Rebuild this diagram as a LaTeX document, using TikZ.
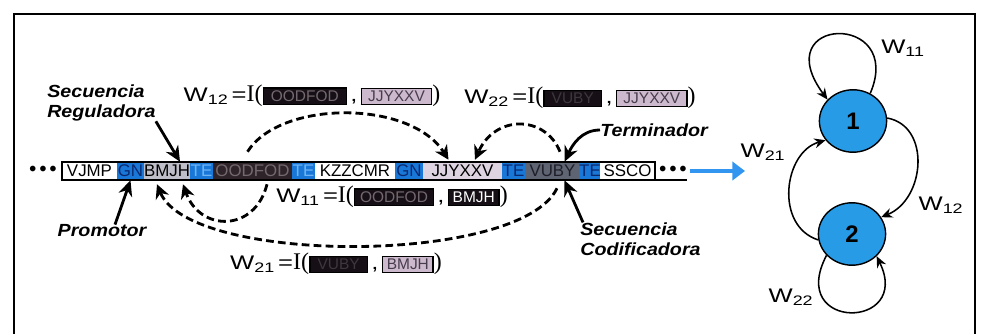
\documentclass[tikz,border=0pt]{standalone}
\usepackage{fontspec}
\setmainfont{Liberation Sans}
\newfontfamily\heavyfont[FakeStretch=1.12]{Liberation Sans}
\newfontfamily\wfont[FakeStretch=1.3]{Liberation Sans}
\newfontfamily\serifI{Liberation Serif}
\usetikzlibrary{arrows.meta,shapes.geometric}

\definecolor{segblue}{RGB}{25,120,215}
\definecolor{gntxt}{RGB}{10,40,110}
\definecolor{tetxt}{RGB}{110,180,245}
\definecolor{seggray}{RGB}{190,190,200}
\definecolor{segdark}{RGB}{45,35,40}
\definecolor{darktxt}{RGB}{115,105,110}
\definecolor{segpink}{RGB}{222,212,225}
\definecolor{segslate}{RGB}{95,100,115}
\definecolor{slatetxt}{RGB}{30,30,40}
\definecolor{boxpink}{RGB}{205,185,205}
\definecolor{pinktxt}{RGB}{70,60,75}
\definecolor{boxblack}{RGB}{22,16,22}
\definecolor{blacktxt}{RGB}{62,56,62}
\definecolor{stateblue}{RGB}{40,155,230}
\definecolor{arrowblue}{RGB}{50,150,240}

\setlength{\fboxsep}{1.5pt}
\setlength{\fboxrule}{1pt}
% hidden sequence inside a label: fill, text colour, width, text
\newcommand{\seqbox}[4]{\fcolorbox{black}{#1}{\makebox[#3]{\normalfont\fontsize{11}{12}\selectfont\textcolor{#2}{#4}}}}

\begin{document}
\begin{tikzpicture}[x=0.025cm, y=0.025cm,
  seg/.style={inner sep=0pt, minimum height=0.45cm, font=\fontsize{12}{12}\selectfont},
  lbl/.style={inner sep=0pt, align=left, font=\heavyfont\bfseries\itshape\fontsize{12.5}{14}\selectfont},
  wlbl/.style={inner sep=0pt, font=\wfont\fontsize{14}{16}\selectfont},
  fat/.style={line width=2pt, -{Stealth[length=11pt,width=10pt]}},
  dashcurve/.style={line width=2pt, dash pattern=on 5.5pt off 3pt, -{Stealth[length=10pt,width=10pt]}},
  stnode/.style={ellipse, draw, line width=1pt, fill=stateblue, minimum width=1.68cm, minimum height=1.56cm, inner sep=0pt, font=\bfseries\fontsize{17}{17}\selectfont},
  trans/.style={line width=1.1pt, -{Stealth[length=8pt,width=7pt]}}]
\useasboundingbox (0,0) rectangle (981,-334);
\draw[line width=2pt] (14,-14) rectangle (975,-360);

% the sequence
\node[seg, fill=white, minimum width=1.375cm] (vjmp) at (89.5,-171) {VJMP};
\node[seg, fill=segblue, text=gntxt, minimum width=0.675cm] (gn1) at (130.5,-171) {GN};
\node[seg, fill=seggray, minimum width=1.15cm] (bmjh) at (167,-171) {BMJH};
\node[seg, fill=segblue, text=tetxt, minimum width=0.575cm] (te1) at (201.5,-171) {TE};
\node[seg, fill=segdark, text=darktxt, minimum width=1.975cm] (oodfod) at (252.5,-171) {OODFOD};
\node[seg, fill=segblue, text=tetxt, minimum width=0.575cm] (te2) at (303.5,-171) {TE};
\node[seg, fill=white, minimum width=2cm] (kzz) at (355,-171) {KZZCMR};
\node[seg, fill=segblue, text=gntxt, minimum width=0.7cm] (gn2) at (409,-171) {GN};
\node[seg, fill=segpink, minimum width=1.975cm] (jjy) at (462.5,-171) {JJYXXV};
\node[seg, fill=segblue, text=gntxt, minimum width=0.575cm] (te3) at (513.5,-171) {TE};
\node[seg, fill=segslate, text=slatetxt, minimum width=1.375cm] (vuby) at (552.5,-171) {VUBY};
\node[seg, fill=segblue, text=gntxt, minimum width=0.5cm] (te4) at (590,-171) {TE};
\node[seg, fill=white, minimum width=1.375cm] (ssco) at (627.5,-171) {SSCO};
\draw[line width=1.2pt] (vjmp.north west) rectangle (ssco.south east);
\node[inner sep=0pt, font=\bfseries\fontsize{14}{14}\selectfont] (dotsL) at (43,-171) {•\,•\,•};
\node[inner sep=0pt, font=\bfseries\fontsize{14}{14}\selectfont] (dotsR) at (673,-171) {•\,•\,•};
\draw[line width=1.2pt] (ssco.south east) -- (ssco.south east -| dotsR.east);
\coordinate (blueend) at (745,-171);
\draw[line width=3.5pt, arrowblue, -{Triangle[length=9pt,width=13pt]}] ([xshift=2pt]dotsR.east) -- (blueend);

% names of the parts
\node[lbl, anchor=west] (reg) at (47,-103) {Secuencia\\Reguladora};
\node[lbl, anchor=west] (term) at (600,-130) {Terminador};
\node[lbl] (prom) at (102,-231) {Promotor};
\node[lbl, anchor=west] (cod) at (580,-239) {Secuencia\\Codificadora};
\draw[fat] (reg.south east) -- ([shift={(13,0)}]bmjh.north);
\draw[fat] (term.west) to[out=180,in=65] ([shift={(12,0)}]vuby.north);
\draw[fat] ([shift={(13,0)}]prom.north) -- (gn1.south);
\draw[fat] ([shift={(3,0)}]cod.north west) -- ([shift={(12,0)}]vuby.south);

% interactions
\node[wlbl] (w12) at (312,-96) {W\textsubscript{12}\,={\serifI\fontsize{17}{17}\selectfont I(}\seqbox{boxblack}{darktxt}{55pt}{OODFOD}\,,\,\seqbox{boxpink}{pinktxt}{46pt}{JJYXXV}{\serifI\fontsize{17}{17}\selectfont )}};
\node[wlbl] (w22) at (580,-98) {W\textsubscript{22}\,={\serifI\fontsize{17}{17}\selectfont I(}\seqbox{boxblack}{blacktxt}{37pt}{VUBY}\,,\,\seqbox{boxpink}{pinktxt}{46pt}{JJYXXV}{\serifI\fontsize{17}{17}\selectfont )}};
\node[wlbl] (w11) at (392,-197) {W\textsubscript{11}\,={\serifI\fontsize{17}{17}\selectfont I(}\seqbox{boxblack}{darktxt}{52pt}{OODFOD}\,,\,\seqbox{boxblack}{white}{32pt}{BMJH}{\serifI\fontsize{17}{17}\selectfont )}};
\node[wlbl] (w21) at (336,-264) {W\textsubscript{21}\,={\serifI\fontsize{17}{17}\selectfont I(}\seqbox{boxblack}{blacktxt}{37pt}{VUBY}\,,\,\seqbox{boxpink}{pinktxt}{32pt}{BMJH}{\serifI\fontsize{17}{17}\selectfont )}};
\draw[dashcurve] ([shift={(-5,10)}]oodfod.north) .. controls +(33,52) and +(-38,60) .. ([shift={(-14,2)}]jjy.north);
\draw[dashcurve] ([shift={(7.5,10)}]vuby.north) .. controls +(-15,37) and +(20,45) .. ([shift={(12.5,2)}]jjy.north);
\draw[dashcurve] ([shift={(14.5,-4)}]oodfod.south) .. controls +(-12,-48) and +(17,-48) .. ([shift={(16,-4)}]bmjh.south);
\draw[dashcurve] ([shift={(4.5,-8)}]vuby.south) .. controls +(-37,-77) and +(33,-81) .. ([shift={(-10,-4)}]bmjh.south);

% the network
\node[stnode] (s1) at (853,-121) {1};
\node[stnode] (s2) at (852,-234) {2};
\draw[trans] (s1.58) .. controls +(35,82) and +(-62,84) .. (s1.140);
\draw[trans] (s1.5) .. controls +(44,-8) and +(44,18) .. (s2.30);
\draw[trans] (s2.190) .. controls +(-44,14) and +(-42,-12) .. (s1.215);
\draw[trans] (s2.220) .. controls +(-40,-76) and +(36,-74) .. (s2.318);
\node[wlbl] (l11) at (903,-48) {W\textsubscript{11}};
\node[wlbl] (l12) at (941,-205) {W\textsubscript{12}};
\node[wlbl] (l21) at (763,-152) {W\textsubscript{21}};
\node[wlbl] (l22) at (791,-297) {W\textsubscript{22}};
\end{tikzpicture}
\end{document}
